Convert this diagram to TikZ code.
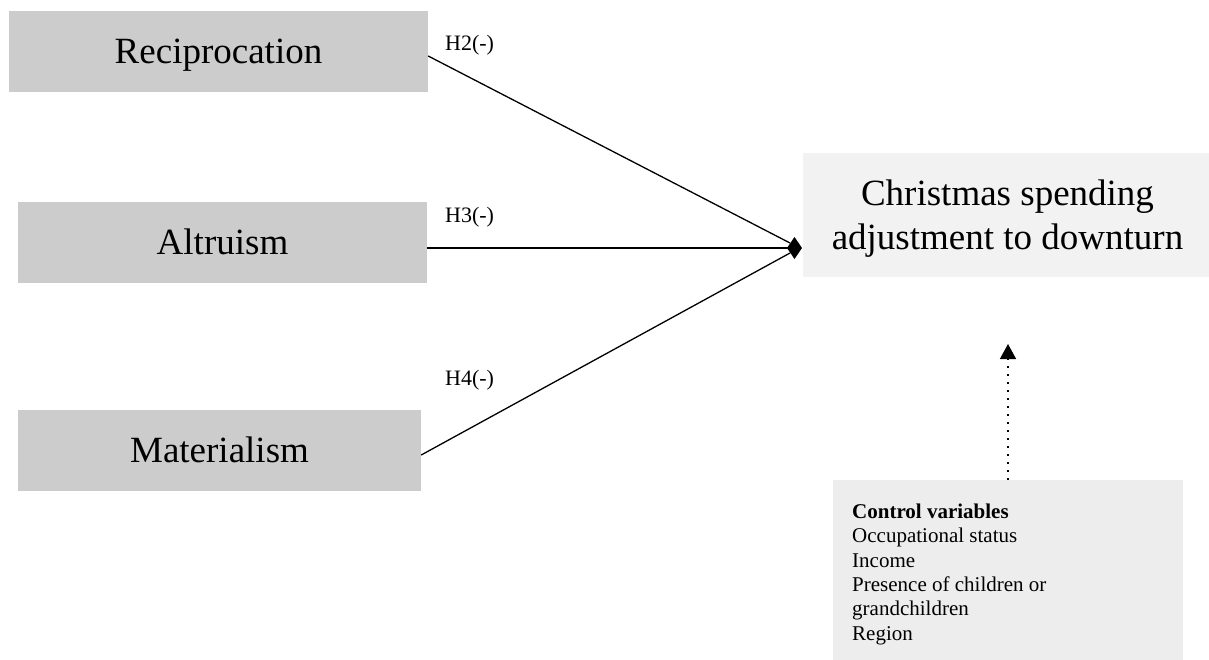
\documentclass[tikz,border=0pt]{standalone}
\usepackage{fontspec}
\setmainfont{Liberation Serif}
\usetikzlibrary{arrows.meta}
\begin{document}
\begin{tikzpicture}[x=1pt,y=-1pt,
  varbox/.style={fill=black!20, draw=none, minimum height=81pt, inner sep=0pt, text height=25pt, text depth=1pt, font=\fontsize{37}{44}\selectfont},
  hlabel/.style={font=\fontsize{22}{25}\selectfont, anchor=base west, inner sep=0pt},
  link/.style={line width=1.3pt}]
\useasboundingbox (0,0) rectangle (1209,659);
\node[varbox, minimum width=419pt] (rec) at (218.5,51) {Reciprocation};
\node[varbox, minimum width=409pt] (alt) at (222.5,242.5) {Altruism};
\node[varbox, minimum width=403pt] (mat) at (219.5,450.5) {Materialism};
\node[fill=black!5, minimum width=410pt, minimum height=124pt, inner sep=0pt] (xmas) at (1008,215) {};
\node[anchor=base, inner sep=0pt, align=center, font=\fontsize{37}{44}\selectfont] (xmastxt) at (1007.5,249) {Christmas spending\\adjustment to downturn};
\node[fill=black!7, minimum width=350pt, minimum height=182pt, inner sep=0pt] (ctrl) at (1008,571) {};
\node[anchor=base west, inner sep=0pt, align=left, font=\fontsize{21}{24.3}\selectfont] (ctrltxt) at (852,640) {\textbf{Control variables}\\Occupational status\\Income\\Presence of children or\\grandchildren\\Region};
\coordinate (tip) at (802,248);
\draw[link] (rec.east |- 0,56) -- (790,243);
\draw[link] (mat.east |- 0,455) -- (790,253);
\draw[link, -{Diamond[length=15pt,width=22pt]}] (alt.east |- tip) -- (tip);
\node[hlabel] (h2) at (445,50) {H2(-)};
\node[hlabel] (h3) at (445,222) {H3(-)};
\node[hlabel] (h4) at (445,385) {H4(-)};
\draw[line width=1.5pt, dash pattern=on 1.5pt off 6.5pt, -{Triangle[length=15pt,width=16pt]}] (ctrl.north) -- (1008,344);
\end{tikzpicture}
\end{document}
